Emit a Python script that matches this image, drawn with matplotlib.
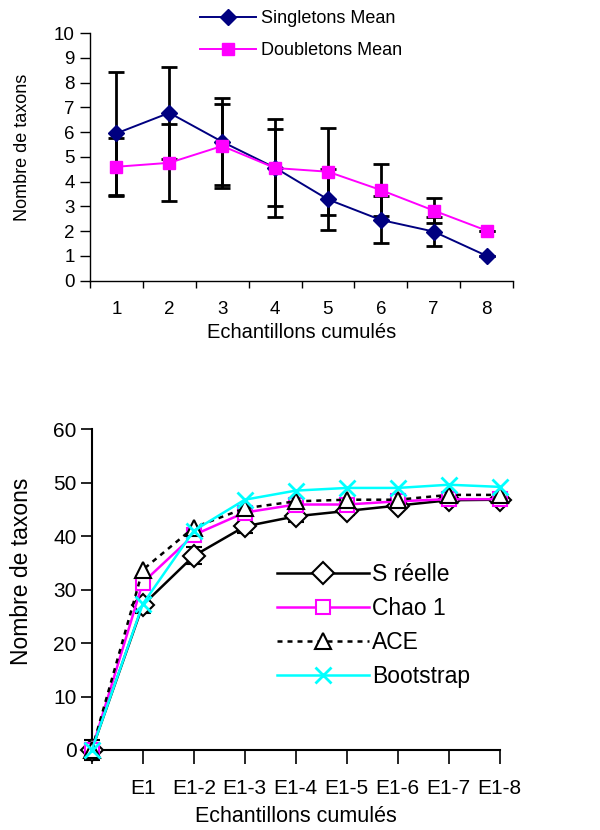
import matplotlib
matplotlib.use("Agg")
import matplotlib.pyplot as plt
import numpy as np

plt.rcParams['font.family'] = ['Liberation Sans', 'DejaVu Sans']

# ---- Top chart data ----
top_x = [1, 2, 3, 4, 5, 6, 7, 8]
singletons = [5.95, 6.78, 5.61, 4.56, 3.28, 2.45, 1.98, 1.0]
singletons_err = [2.5, 1.86, 1.75, 1.55, 1.24, 0.95, 0.6, 0.0]
doubletons = [4.6, 4.76, 5.44, 4.55, 4.4, 3.66, 2.83, 2.02]
doubletons_err = [1.17, 1.55, 1.69, 1.97, 1.76, 1.06, 0.5, 0.0]
top_xticklabels = ['1', '2', '3', '4', '5', '6', '7', '8']

# ---- Bottom chart data ----
bot_labels = ['', 'E1', 'E1-2', 'E1-3', 'E1-4', 'E1-5', 'E1-6', 'E1-7', 'E1-8']
s_reelle = [0, 27.1, 36.3, 41.8, 43.7, 44.7, 45.7, 46.7, 46.8]
s_reelle_err = [1.8, 1.5, 1.6, 1.2, 1.0, 0.8, 0.6, 0.3, 0.0]
chao1 = [0, 31.3, 40.2, 44.4, 45.9, 45.9, 46.5, 46.9, 46.9]
ace = [0, 33.7, 41.6, 45.2, 46.5, 46.8, 46.8, 47.7, 47.7]
bootstrap = [0, 27.3, 41.0, 46.8, 48.5, 49.0, 49.0, 49.6, 49.2]

fig = plt.figure(figsize=(6, 8.3), dpi=100)

# ---------------- Top ----------------
ax1 = fig.add_axes([0.15, 0.662, 0.705, 0.298])
ax1.errorbar(top_x, singletons, yerr=singletons_err, fmt='none', ecolor='black',
             elinewidth=2, capsize=5.5, capthick=2, zorder=2)
ax1.errorbar(top_x, doubletons, yerr=doubletons_err, fmt='none', ecolor='black',
             elinewidth=2, capsize=5.5, capthick=2, zorder=2)
l1, = ax1.plot(top_x, singletons, color='#000080', marker='D', markersize=8.5, lw=1.4,
               label='Singletons Mean', zorder=3, clip_on=False)
l2, = ax1.plot(top_x, doubletons, color='#FF00FF', marker='s', markersize=8, lw=1.4,
               label='Doubletons Mean', zorder=3, clip_on=False)
ax1.set_xlim(0.5, 8.5)
ax1.set_ylim(0, 10)
ax1.set_yticks(range(0, 11))
ax1.set_xticks(top_x)
ax1.set_xticklabels(top_xticklabels)
ax1.set_xticks(np.arange(0.5, 9.0, 1.0), minor=True)
ax1.tick_params(axis='x', which='major', length=0, pad=15, labelsize=13.5)
ax1.tick_params(axis='x', which='minor', length=5, width=1, direction='out')
ax1.tick_params(axis='y', length=7, width=1, labelsize=13.5, pad=4)
for s in ['top', 'right']:
    ax1.spines[s].set_visible(False)
ax1.spines['left'].set_linewidth(1)
ax1.spines['bottom'].set_linewidth(1)
ax1.set_xlabel('Echantillons cumulés', fontsize=14.5, labelpad=3)
ax1.set_ylabel('Nombre de taxons', fontsize=13)
ax1.yaxis.set_label_coords(-0.14, 0.54)
fig.legend(handles=[l1, l2], loc='upper left',
           bbox_to_anchor=(200 / 600, 1 - 10 / 830), frameon=False,
           fontsize=13, handlelength=3.1, handletextpad=0.3,
           labelspacing=0.85, borderpad=0, borderaxespad=0)

# ---------------- Bottom ----------------
ax2 = fig.add_axes([0.153, 0.0964, 0.68, 0.3866])
xb = np.arange(len(bot_labels))
ax2.errorbar(xb, s_reelle, yerr=s_reelle_err, fmt='none', ecolor='black',
             elinewidth=1.5, capsize=6, capthick=1.5, zorder=2, clip_on=False)
h1, = ax2.plot(xb, s_reelle, color='black', marker='D', markersize=11, mfc='white',
               mec='black', mew=1.5, lw=1.8, label='S réelle', zorder=3, clip_on=False)
h2, = ax2.plot(xb, chao1, color='#FF00FF', marker='s', markersize=9.5, mfc='white',
               mec='#FF00FF', mew=1.5, lw=1.8, label='Chao 1', zorder=3, clip_on=False)
h3, = ax2.plot(xb, ace, color='black', marker='^', markersize=11.5, mfc='white',
               mec='black', mew=1.5, lw=1.8, ls=(0, (2, 2)), label='ACE', zorder=3,
               clip_on=False)
h4, = ax2.plot(xb, bootstrap, color='#00FFFF', marker='x', markersize=11,
               mew=2, lw=1.8, label='Bootstrap', zorder=4, clip_on=False)
ax2.set_xlim(0, 8)
ax2.set_ylim(0, 60)
ax2.set_yticks(range(0, 61, 10))
ax2.set_xticks(xb)
ax2.set_xticklabels(bot_labels)
ax2.tick_params(axis='x', length=10, width=1.2, direction='out', labelsize=15, pad=11)
ax2.tick_params(axis='y', length=8, width=1.2, direction='out', labelsize=15, pad=3)
for s in ['top', 'right']:
    ax2.spines[s].set_visible(False)
ax2.spines['left'].set_linewidth(1.5)
ax2.spines['bottom'].set_linewidth(1.5)
ax2.set_xlabel('Echantillons cumulés', fontsize=15.5, labelpad=6)
ax2.set_ylabel('Nombre de taxons', fontsize=16.5)
ax2.yaxis.set_label_coords(-0.145, 0.558)
fig.legend(handles=[h1, h2, h3, h4], loc='upper left',
           bbox_to_anchor=(277 / 600, 1 - 563 / 830), frameon=False,
           fontsize=16.5, handlelength=4.0, handletextpad=0.15,
           labelspacing=0.48, borderpad=0, borderaxespad=0)

fig.savefig('out.png', dpi=100)
